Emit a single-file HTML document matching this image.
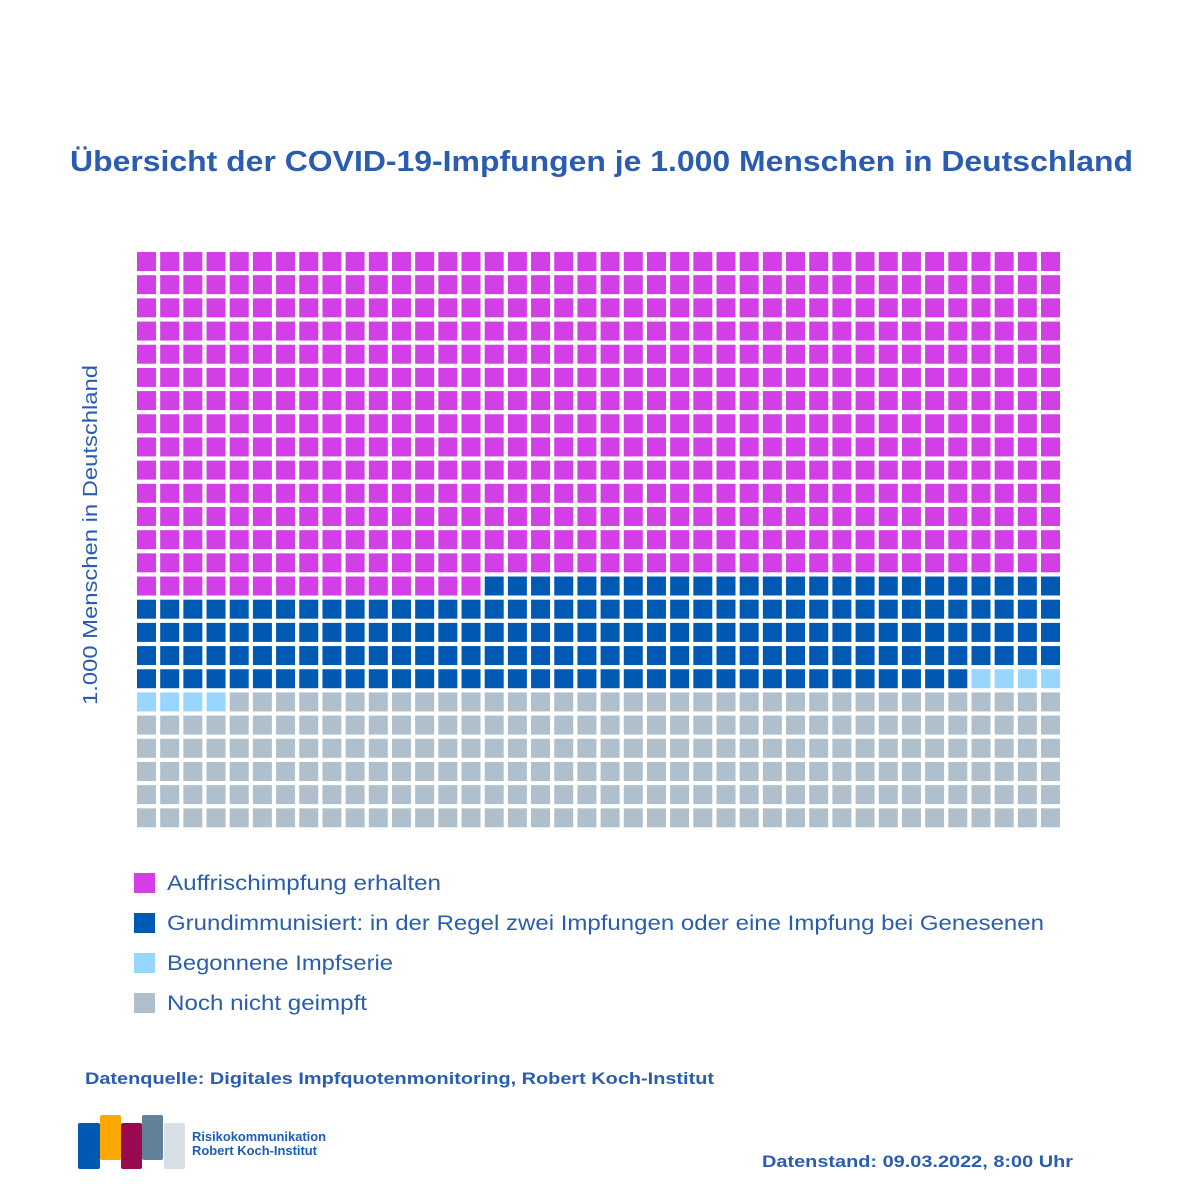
<!DOCTYPE html>
<html><head><meta charset="utf-8"><style>
html,body{margin:0;padding:0;background:#fff}
svg{display:block}
text{font-family:"Liberation Sans",Arial,sans-serif}
</style></head><body>
<svg id="chart" width="1195" height="1195" viewBox="0 0 1195 1195" xmlns="http://www.w3.org/2000/svg">
<rect width="1195" height="1195" fill="#fff"/>
<text x="70" y="171" font-size="29" font-weight="bold" fill="#2a5db0" textLength="1063" lengthAdjust="spacingAndGlyphs">Übersicht der COVID-19-Impfungen  je 1.000 Menschen in Deutschland</text>
<text transform="translate(97,535) rotate(-90)" text-anchor="middle" font-size="20" fill="#2a5db0" textLength="340" lengthAdjust="spacingAndGlyphs">1.000 Menschen in Deutschland</text>
<g id="cells"></g>
<g id="legend"></g>
<text x="85" y="1084" font-size="17" font-weight="bold" fill="#2a5db0" textLength="629" lengthAdjust="spacingAndGlyphs">Datenquelle: Digitales Impfquotenmonitoring,  Robert Koch-Institut</text>
<text x="762" y="1167" font-size="17" font-weight="bold" fill="#2a5db0" textLength="311" lengthAdjust="spacingAndGlyphs">Datenstand: 09.03.2022, 8:00 Uhr</text>
<g>
<rect x="78" y="1123" width="22" height="46" rx="2" fill="#005ab4"/>
<rect x="100" y="1115" width="21" height="45" rx="2" fill="#fda800"/>
<rect x="121" y="1123" width="21" height="46" rx="2" fill="#990a50"/>
<rect x="142" y="1115" width="21" height="45" rx="2" fill="#62819a"/>
<rect x="164" y="1123" width="21" height="46" rx="2" fill="#d8dfe5"/>
<text x="192" y="1141" font-size="12.5" font-weight="bold" fill="#1a5fb4" textLength="134" lengthAdjust="spacingAndGlyphs">Risikokommunikation</text>
<text x="192" y="1155" font-size="12.5" font-weight="bold" fill="#1a5fb4" textLength="125" lengthAdjust="spacingAndGlyphs">Robert Koch-Institut</text>
</g>
</svg>
<script>
const categories = ["Auffrischimpfung erhalten","Grundimmunisiert: in der Regel zwei Impfungen oder eine Impfung bei Genesenen","Begonnene Impfserie","Noch nicht geimpft"];
const counts = [575, 181, 8, 236];
const colors = ["#d23fe6","#005ab4","#99d6ff","#afbfcb"];
const NS="http://www.w3.org/2000/svg";
const cols=40, x0=137, y0=252, pitch=23.18, size=19;
function xPos(c){return x0+c*pitch;}
function yPos(r){return y0+r*pitch;}
const g=document.getElementById('cells');
let idx=0;
counts.forEach((n,k)=>{
  for(let i=0;i<n;i++,idx++){
    const r=document.createElementNS(NS,'rect');
    r.setAttribute('x',xPos(idx%cols));
    r.setAttribute('y',yPos(Math.floor(idx/cols)));
    r.setAttribute('width',size);r.setAttribute('height',size);
    r.setAttribute('fill',colors[k]);
    
    
    g.appendChild(r);
  }
});
const lg=document.getElementById('legend');
const widths=[274,877,226,200];
categories.forEach((c,k)=>{
  const y=873+k*40;
  const e=document.createElementNS(NS,'g');
  
  
  const s=document.createElementNS(NS,'rect');
  s.setAttribute('x',134);s.setAttribute('y',y);s.setAttribute('width',21);s.setAttribute('height',20);
  s.setAttribute('fill',colors[k]);
  e.appendChild(s);
  const t=document.createElementNS(NS,'text');
  t.setAttribute('x',167);t.setAttribute('y',y+17);
  t.setAttribute('font-size','21');t.setAttribute('fill','#2a5db0');
  t.setAttribute('textLength',widths[k]);t.setAttribute('lengthAdjust','spacingAndGlyphs');
  t.textContent=c;
  e.appendChild(t);
  lg.appendChild(e);
});
</script>
</body></html>
